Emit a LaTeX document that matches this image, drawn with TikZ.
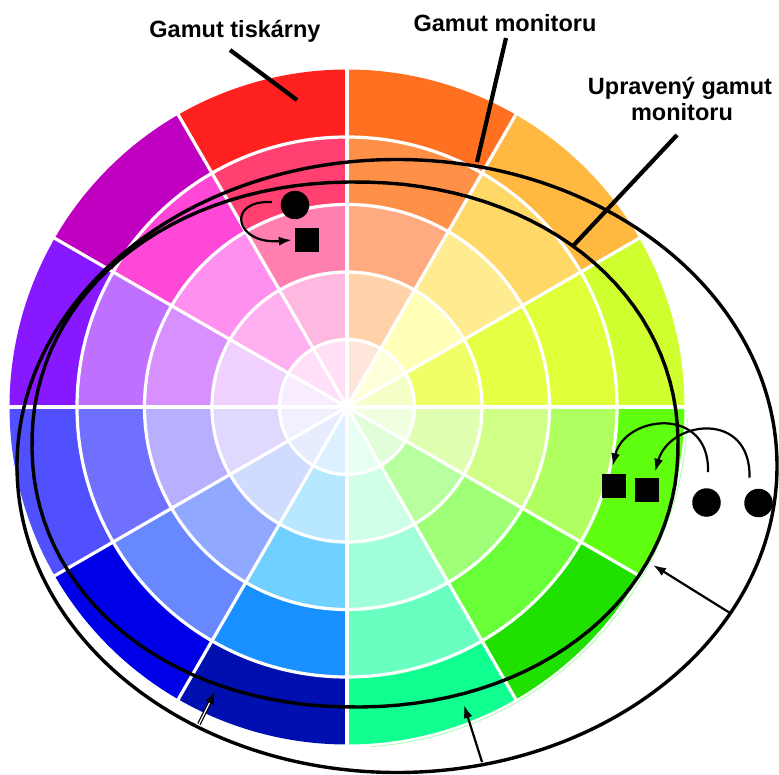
\documentclass[tikz,border=0pt]{standalone}
\usepackage{fontspec}
\setmainfont{Liberation Sans}
\usetikzlibrary{arrows.meta}
% wedge colours: letter = wedge (a: 0-30 deg, b: 30-60, ...), number = ring (1 inner .. 5 outer)
\definecolor{wa1}{HTML}{F4FFC8}\definecolor{wa2}{HTML}{F0FF68}\definecolor{wa3}{HTML}{E6FF45}\definecolor{wa4}{HTML}{E0FF38}\definecolor{wa5}{HTML}{D0FF30}
\definecolor{wb1}{HTML}{FFFFDC}\definecolor{wb2}{HTML}{FFFFB8}\definecolor{wb3}{HTML}{FFEC90}\definecolor{wb4}{HTML}{FFD868}\definecolor{wb5}{HTML}{FFB840}
\definecolor{wc1}{HTML}{FFE6DA}\definecolor{wc2}{HTML}{FFD2AA}\definecolor{wc3}{HTML}{FFAA80}\definecolor{wc4}{HTML}{FF9048}\definecolor{wc5}{HTML}{FF7020}
\definecolor{wd1}{HTML}{FFE0F4}\definecolor{wd2}{HTML}{FFB8E0}\definecolor{wd3}{HTML}{FF80B0}\definecolor{wd4}{HTML}{FF4070}\definecolor{wd5}{HTML}{FF2020}
\definecolor{we1}{HTML}{FFE0F8}\definecolor{we2}{HTML}{FFB0F0}\definecolor{we3}{HTML}{FF90F0}\definecolor{we4}{HTML}{FF48D8}\definecolor{we5}{HTML}{C000C0}
\definecolor{wf1}{HTML}{F8ECFF}\definecolor{wf2}{HTML}{F0D0FF}\definecolor{wf3}{HTML}{D890FF}\definecolor{wf4}{HTML}{C070FF}\definecolor{wf5}{HTML}{8818FF}
\definecolor{wg1}{HTML}{F0F0FF}\definecolor{wg2}{HTML}{E0D8FF}\definecolor{wg3}{HTML}{B8B0FF}\definecolor{wg4}{HTML}{7070FF}\definecolor{wg5}{HTML}{5050FF}
\definecolor{wh1}{HTML}{E8ECFF}\definecolor{wh2}{HTML}{D0DCFF}\definecolor{wh3}{HTML}{90A8FF}\definecolor{wh4}{HTML}{6888FF}\definecolor{wh5}{HTML}{0000E8}
\definecolor{wi1}{HTML}{DCF0FF}\definecolor{wi2}{HTML}{B8E8FF}\definecolor{wi3}{HTML}{70D0FF}\definecolor{wi4}{HTML}{1890FF}\definecolor{wi5}{HTML}{0010B0}
\definecolor{wj1}{HTML}{E8FFF4}\definecolor{wj2}{HTML}{D0FFE8}\definecolor{wj3}{HTML}{A0FFD8}\definecolor{wj4}{HTML}{68FFC0}\definecolor{wj5}{HTML}{10FF90}
\definecolor{wk1}{HTML}{E0FFD8}\definecolor{wk2}{HTML}{B8FFA0}\definecolor{wk3}{HTML}{A0FF78}\definecolor{wk4}{HTML}{68FF38}\definecolor{wk5}{HTML}{20E000}
\definecolor{wl1}{HTML}{F0FFE0}\definecolor{wl2}{HTML}{E0FFB0}\definecolor{wl3}{HTML}{D0FF88}\definecolor{wl4}{HTML}{B0FF60}\definecolor{wl5}{HTML}{60FF10}
\definecolor{rimgreen}{HTML}{90FF90}
\begin{document}
\begin{tikzpicture}[x=1pt,y=-1pt,
  gamut/.style={line width=3.4pt, black, line join=round},
  leader/.style={line width=4.2pt, black},
  pointer/.style={line width=2.2pt, black, -{Latex[length=13pt,width=9pt]}},
  lbl/.style={font=\bfseries\fontsize{23.5}{26.4}\selectfont, inner sep=0pt, anchor=base},
  sqmark/.style={rectangle, fill=black, minimum size=24pt, inner sep=0pt},
  dotmark/.style={circle, fill=black, minimum size=28.5pt, inner sep=0pt},
  sep/.style={white, line width=3.2pt}]
\useasboundingbox (0,0) rectangle (779,775);

% colour wheel (printer gamut)
\begin{scope}[shift={(347,407)}, yscale=-1]
  \foreach \s/\w in {0/a,30/b,60/c,90/d,120/e,150/f,180/g,210/h,240/i,270/j,300/k,330/l}{
    \foreach \k in {5,4,3,2,1}{
      \pgfmathsetmacro\ro{\k*67.5}
      \fill[w\w\k] (0,0) -- (\s:\ro) arc[start angle=\s, delta angle=30, radius=\ro] -- cycle;
    }
  }
  \draw[rimgreen, line width=0.6pt] (-86:340.5) arc[start angle=-86, end angle=-2, radius=340.5];
  \foreach \r in {67.5,135,202.5,270}{
    \draw[sep] (0,0) circle[radius=\r];
  }
  \foreach \a in {0,30,...,330}{
    \draw[sep] (0,0) -- (\a:338);
  }
\end{scope}

% monitor gamut (outer curve)
\draw[gamut] (397,466) ellipse[x radius=380, y radius=306.5];

% adjusted monitor gamut (inner curve)
\draw[gamut] plot[domain=1:358, samples=120, variable=\t]
  ({355+323*sign(cos(\t))*pow(abs(cos(\t)),0.9615)},
   {444.5-262.5*sign(sin(\t))*pow(abs(sin(\t)),0.9615)}) -- cycle;

% labels
\node[lbl] (tisk) at (235,38) {Gamut tiskárny};
\node[lbl] (moni) at (505,32) {Gamut monitoru};
\node[lbl] (upr1) at (680,95) {Upravený gamut};
\node[lbl] (upr2) at (682,120.5) {monitoru};

\coordinate (tiskA) at (230,50);
\coordinate (tiskB) at (297,100);
\coordinate (moniA) at (506,38);
\coordinate (moniB) at (477,162);
\coordinate (uprA) at (677,135);
\coordinate (uprB) at (572,247);
\draw[leader] (tiskA) -- (tiskB);
\draw[leader] (moniA) -- (moniB);
\draw[leader] (uprA) -- (uprB);

% markers, top left
\node[dotmark] (d1) at (295,205) {};
\node[sqmark] (s1) at (307,240) {};
\coordinate (a1) at (272,202);
\draw[pointer] (a1) .. controls (225,200) and (235,245) .. ([xshift=-3pt]s1.west);

% markers, right
\node[sqmark] (s2) at (613.5,485.5) {};
\node[sqmark] (s3) at (647,490) {};
\node[dotmark] (d2) at (706.5,502.5) {};
\node[dotmark] (d3) at (758.5,503) {};
\draw[pointer] ([xshift=1.5pt,yshift=16pt]d2.north) .. controls (710,405) and (625,415) .. ([xshift=-1pt,yshift=7pt]s2.north);
\draw[pointer] ([xshift=-9pt,yshift=11pt]d3.north) .. controls (751,410) and (670,420) .. ([xshift=8pt,yshift=6pt]s3.north);

% pointers to the wheel border
\coordinate (p1a) at (730,613);
\coordinate (p1b) at (653,565);
\draw[pointer] (p1a) -- (p1b);
\coordinate (p2a) at (482,762);
\coordinate (p2b) at (464,705);
\draw[pointer] (p2a) -- (p2b);
\coordinate (p3a) at (199,724);
\coordinate (p3b) at (215,692);
\coordinate (p3c) at (209.5,703);
\draw[line width=3.6pt, black, -{Latex[length=12pt,width=10pt]}] (p3a) -- (p3b);
\draw[line width=1.2pt, white] (p3a) -- (p3c);
\end{tikzpicture}
\end{document}
